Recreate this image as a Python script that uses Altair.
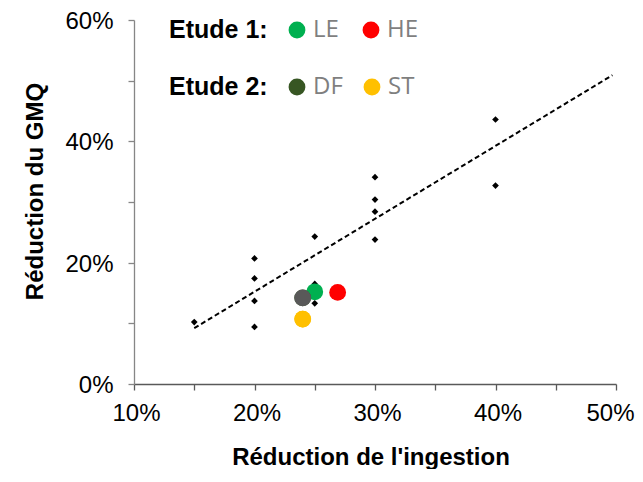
import altair as alt
import pandas as pd

# Points noirs (données bibliographiques)
ingestion = [0.15, 0.20, 0.20, 0.20, 0.20, 0.25, 0.25, 0.25, 0.30, 0.30, 0.30, 0.30, 0.40, 0.40]
gmq = [0.102, 0.207, 0.174, 0.137, 0.094, 0.243, 0.165, 0.133, 0.341, 0.304, 0.284, 0.238, 0.436, 0.327]

# Etude 1
etude1_groupes = ["LE", "HE"]
etude1_x = [0.250, 0.269]
etude1_y = [0.152, 0.151]
etude1_couleurs = ["#00B050", "#FF0000"]

# Etude 2
etude2_groupes = ["DF", "ST"]
etude2_x = [0.240, 0.240]
etude2_y = [0.142, 0.107]
etude2_couleurs_legende = ["#375623", "#FFC000"]
etude2_couleurs_points = ["#595959", "#FFC000"]

# Droite de tendance
tendance_x = [0.150, 0.497]
tendance_y = [0.092, 0.509]

x_ticks = [0.10, 0.15, 0.20, 0.25, 0.30, 0.35, 0.40, 0.45, 0.50]
y_ticks = [0.0, 0.1, 0.2, 0.3, 0.4, 0.5, 0.6]

df_pts = pd.DataFrame({"x": ingestion, "y": gmq})
df_e1 = pd.DataFrame({"x": etude1_x, "y": etude1_y, "g": etude1_groupes})
df_e2 = pd.DataFrame({"x": etude2_x, "y": etude2_y, "g": etude2_groupes})
df_tr = pd.DataFrame({"x": tendance_x, "y": tendance_y})

xscale = alt.Scale(domain=[0.1, 0.5], nice=False, zero=False)
yscale = alt.Scale(domain=[0.0, 0.6], nice=False)

x_axis = alt.Axis(
    values=x_ticks,
    labelExpr="round(datum.value*100) % 10 == 0 ? round(datum.value*100) + '%' : ''",
    title="Réduction de l'ingestion",
    titleX=236.5, titleY=80, titleAlign="center", titleBaseline="alphabetic",
    labelPadding=11, tickSize=6, domainColor="#595959", tickColor="#595959",
    labelFlush=False, labelOverlap=False,
    labelAlign={"condition": {"test": "datum.value > 0.49", "value": "right"}, "value": "center"},
    labelOffset={"condition": {"test": "datum.value > 0.49", "value": 18}, "value": 2},
)
y_axis = alt.Axis(
    values=y_ticks,
    labelExpr="round(datum.value*100) % 20 == 0 ? round(datum.value*100) + '%' : ''",
    title="Réduction du GMQ",
    titleX=-92, titleY=171, titleAlign="center", titleBaseline="alphabetic", titleAngle=270,
    labelPadding=15, tickSize=6, domainColor="#868686", tickColor="#868686",
    labelFlush=False, labelOverlap=False, labelOffset=1.5,
)

X = alt.X("x:Q", scale=xscale, axis=x_axis)
Y = alt.Y("y:Q", scale=yscale, axis=y_axis)

legend_common = dict(
    orient="none", direction="horizontal", titleOrient="left",
    titleFont="Liberation Sans", titleFontSize=25, titleFontWeight="bold", titleColor="black",
    titleBaseline="middle", titleAnchor="middle", titlePadding=17,
    labelFont="Open Sans", labelFontSize=24, labelColor="#7F7F7F", labelOffset=4,
    symbolType="circle", symbolSize=283, symbolStrokeWidth=0, padding=0,
)

tendance = alt.Chart(df_tr).mark_line(color="black", strokeDash=[5, 3], strokeWidth=2).encode(x=X, y=Y)

points = alt.Chart(df_pts).mark_point(shape="diamond", filled=True, size=45, opacity=1).encode(
    x=X, y=Y, color=alt.value("black")
)

e1 = alt.Chart(df_e1).mark_circle(size=283, opacity=1).encode(
    x=X, y=Y,
    color=alt.Color("g:N", scale=alt.Scale(domain=etude1_groupes, range=etude1_couleurs),
                    legend=alt.Legend(title="Etude 1:", legendX=35, legendY=-2, columnPadding=20,
                                      **legend_common)),
)

e2 = alt.Chart(df_e2).mark_circle(size=283, opacity=1).encode(
    x=X, y=Y,
    color=alt.Color("g:N", scale=alt.Scale(domain=etude2_groupes, range=etude2_couleurs_legende),
                    legend=alt.Legend(title="Etude 2:", legendX=35, legendY=55, columnPadding=17,
                                      **legend_common)),
)

e2_points = alt.Chart(df_e2).mark_circle(size=283, opacity=1).encode(
    x=X, y=Y,
    fill=alt.Fill("g:N", scale=alt.Scale(domain=etude2_groupes, range=etude2_couleurs_points), legend=None),
)

chart = alt.layer(tendance, points, e1, e2, e2_points).resolve_scale(color="independent").properties(
    width=482, height=364,
    autosize=alt.AutoSizeParams(type="none"),
    padding={"left": 126, "top": 12, "right": 19, "bottom": 85},
).configure_axis(
    labelFont="Liberation Sans", labelFontSize=24, labelColor="black",
    titleFont="Liberation Sans", titleFontSize=24, titleFontWeight="bold", titleColor="black",
    grid=False, domainWidth=1.3, tickWidth=1.3,
).configure_view(stroke=None)

chart.save("out.html", embed_options={"renderer": "svg", "actions": False})
